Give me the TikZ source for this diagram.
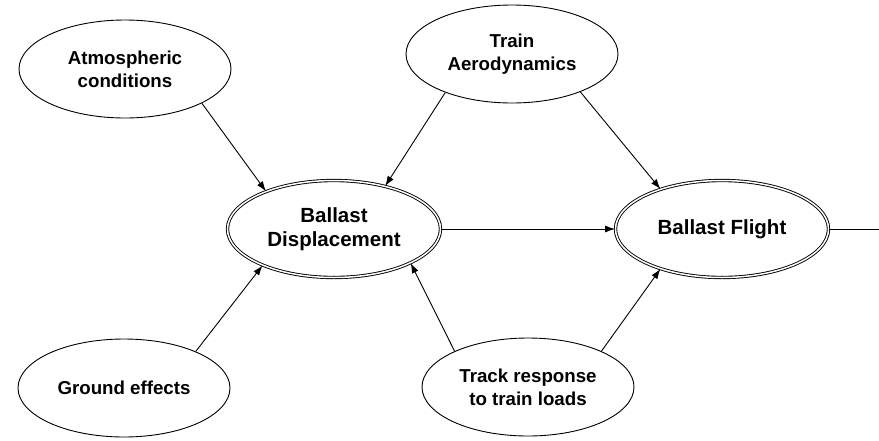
\documentclass[tikz,border=0pt]{standalone}
\usepackage{fontspec}
\setmainfont{Liberation Sans}
\usetikzlibrary{shapes,arrows.meta,positioning,calc}
\tikzset{>={Latex[length=10pt,width=7pt]}}
\tikzset{
  factor/.style={ellipse,draw,line width=0.9pt,inner sep=0pt,align=center,
    minimum width=212pt,minimum height=98pt,font=\fontsize{18.7}{23}\selectfont\bfseries},
  outcome/.style={ellipse,draw,double,double distance=1.5pt,line width=0.9pt,inner sep=0pt,
    align=center,minimum width=213pt,minimum height=97pt,font=\fontsize{20.5}{24}\selectfont\bfseries},
  link/.style={->,line width=0.9pt}
}

\begin{document}
\begin{tikzpicture}[x=1pt,y=-1pt]
    \useasboundingbox (0,0) rectangle (879,440);
    \node [factor] (atmo) at (125,69) {Atmospheric\\conditions};
    \node [factor] (aero) at (512,54) {Train\\Aerodynamics};
    \node [factor] (ground) at (124,388) {Ground effects};
    \node [factor] (track) at (528,387) {Track response\\to train loads};
    \node [outcome] (disp) at (334,229) {Ballast\\Displacement};
    \node [outcome] (flight) at (722,229) {Ballast Flight};
    \coordinate (out) at (879,229);
    % causes of displacement
    \draw [link] (atmo.-24) -- (disp.151);
    \draw [link] (aero.210) -- (disp.40);
    \draw [link] (ground.27) -- (disp.207);
    \draw [link] (track.154) -- (disp.-24);
    % causes of flight
    \draw [link] (disp.east) -- (flight.west);
    \draw [link] (aero.-29) -- (flight.147);
    \draw [link] (track.26) -- (flight.213);
    \draw [line width=0.9pt] (flight.east) -- (out);
  \end{tikzpicture}
\end{document}
